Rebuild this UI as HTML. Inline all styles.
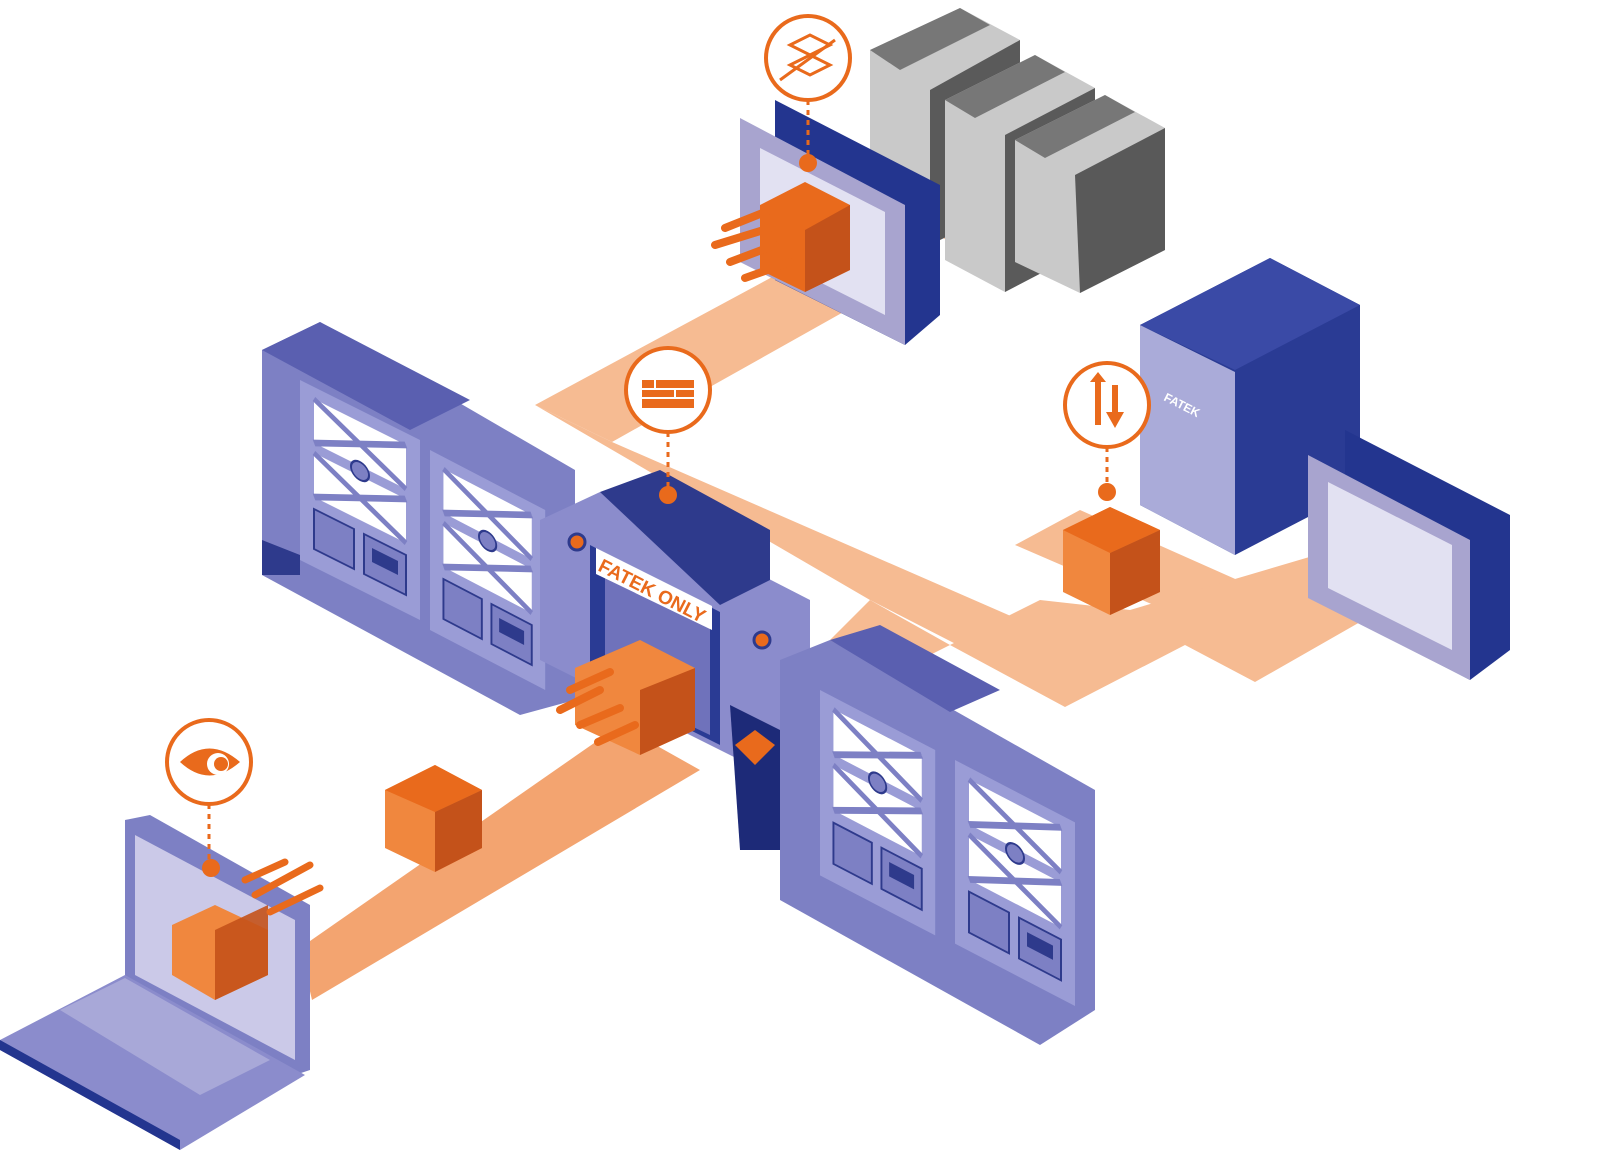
<!DOCTYPE html>
<html><head><meta charset="utf-8"><style>
html,body{margin:0;padding:0;background:#fff;}
svg{display:block;font-family:"Liberation Sans",sans-serif;}
</style></head><body>
<svg width="1600" height="1173" viewBox="0 0 1600 1173" xmlns="http://www.w3.org/2000/svg">
<defs>
<g id="panel">
<rect x="0" y="0" width="120" height="180" fill="#9a9cd6"/>
<rect x="14" y="12" width="92" height="44" fill="#fff"/>
<rect x="14" y="66" width="92" height="44" fill="#fff"/>
<g stroke="#7d80c4" stroke-width="6"><line x1="14" y1="12" x2="106" y2="56"/><line x1="14" y1="56" x2="106" y2="12"/><line x1="14" y1="66" x2="106" y2="110"/><line x1="14" y1="110" x2="106" y2="66"/></g>
<circle cx="60" cy="61" r="9" fill="#7d80c4" stroke="#2e3a8c" stroke-width="2"/>
<rect x="14" y="122" width="40" height="40" fill="#7d80c4" stroke="#2e3a8c" stroke-width="2"/>
<rect x="64" y="122" width="42" height="40" fill="#7d80c4" stroke="#2e3a8c" stroke-width="2"/>
<rect x="72" y="132" width="26" height="14" fill="#2e3a8c"/>
</g>
</defs>
<!-- peach paths -->
<g fill="#f6bb92">
<polygon points="800,262 872,296 612,442 535,405"/>
<polygon points="535,405 612,442 1100,655 1065,700 870,600"/>
<polygon points="1015,545 1080,510 1260,590 1200,625"/>
<polygon points="1130,610 1350,545 1425,585 1255,682 1185,645 1065,707 950,645 1040,600"/>
<polygon points="870,600 950,645 880,680 820,650"/>
<polygon points="930,170 1010,205 960,245 910,225"/>
</g>
<polygon points="620,725 700,770 312,1000 300,948" fill="#f3a470"/>
<!-- top gray modules -->
<g>
<polygon points="870,50 960,8 1020,40 1020,200 930,245 870,215" fill="#c9c9c9"/>
<polygon points="930,90 1020,40 1020,200 930,245" fill="#5a5a5a"/>
<polygon points="945,100 1035,55 1095,88 1095,245 1005,292 945,260" fill="#c9c9c9"/>
<polygon points="1005,135 1095,88 1095,245 1005,292" fill="#5a5a5a"/>
<polygon points="1015,140 1105,95 1165,128 1165,250 1080,293 1015,262" fill="#c9c9c9"/>
<polygon points="1075,175 1165,128 1165,250 1080,293" fill="#595959"/>
<polygon points="870,50 960,8 990,25 900,70" fill="#777"/>
<polygon points="945,100 1035,55 1065,72 975,118" fill="#777"/>
<polygon points="1015,140 1105,95 1135,112 1045,158" fill="#777"/>
</g>
<!-- top HMI -->
<polygon points="775,100 940,185 940,315 905,345 775,280" fill="#23358f"/>
<polygon points="740,118 905,205 905,345 740,262" fill="#a8a4cf"/>
<polygon points="760,148 885,212 885,315 760,252" fill="#e2e1f2"/>
<!-- top cube + streaks -->
<polygon points="760,205 805,182 850,205 850,270 805,292 760,270" fill="#e96a1c"/>
<polygon points="805,230 850,205 850,270 805,292" fill="#c4521a"/>
<g stroke="#e96a1c" stroke-width="8" stroke-linecap="round">
<line x1="725" y1="228" x2="770" y2="210"/><line x1="715" y1="245" x2="770" y2="228"/>
<line x1="730" y1="262" x2="775" y2="245"/><line x1="745" y1="278" x2="790" y2="262"/>
</g>
<!-- right PLC -->
<polygon points="1140,325 1270,258 1360,305 1360,490 1235,555 1140,505" fill="#2a3b94"/>
<polygon points="1140,325 1270,258 1360,305 1235,370" fill="#3a4aa6"/>
<polygon points="1140,325 1235,372 1235,555 1140,505" fill="#b8b8e0" opacity="0.9"/>
<text x="1163" y="400" fill="#fff" font-size="12" font-weight="bold" transform="rotate(27 1163 400)">FATEK</text>
<!-- right HMI -->
<polygon points="1345,430 1510,515 1510,650 1470,680 1345,615" fill="#23358f"/>
<polygon points="1308,455 1470,540 1470,680 1308,598" fill="#a8a4cf"/>
<polygon points="1328,482 1452,545 1452,650 1328,588" fill="#e2e1f2"/>
<!-- right cube -->
<polygon points="1063,530 1110,507 1160,530 1160,592 1110,615 1063,592" fill="#f0873e"/>
<polygon points="1063,530 1110,507 1160,530 1110,553" fill="#e96a1c"/>
<polygon points="1110,553 1160,530 1160,592 1110,615" fill="#c4521a"/>
<!-- left fence -->
<polygon points="262,350 320,322 575,470 575,700 520,715 262,575" fill="#7d80c4"/>
<polygon points="262,350 320,322 470,400 410,430" fill="#5a5fb0"/>
<use href="#panel" transform="matrix(1,0.5,0,1,300,380)"/>
<use href="#panel" transform="matrix(0.96,0.5,0,1,430,450)"/>
<polygon points="262,540 300,555 300,575 262,575" fill="#2e3a8c"/>
<!-- center gate -->
<polygon points="540,520 600,492 810,600 810,760 740,760 540,660" fill="#8b8ccc"/>
<polygon points="590,545 720,612 720,745 590,680" fill="#2a3b94"/>
<polygon points="605,560 710,614 710,735 605,685" fill="#6f72bb"/>
<polygon points="600,492 660,470 770,530 770,580 720,605" fill="#2e3a8c"/>
<polygon points="596,548 712,606 712,630 596,574" fill="#ffffff"/>
<text x="597" y="570" fill="#e96a1c" font-size="19" font-weight="bold" transform="rotate(27 597 570)">FATEK ONLY</text>
<circle cx="577" cy="542" r="8" fill="#e96a1c" stroke="#2e3a8c" stroke-width="3"/>
<circle cx="762" cy="640" r="8" fill="#e96a1c" stroke="#2e3a8c" stroke-width="3"/>
<polygon points="730,705 790,735 800,850 740,850" fill="#1d2a78"/>
<polygon points="735,745 755,730 775,745 755,765" fill="#e96a1c"/>
<!-- gate cube -->
<polygon points="575,668 640,640 695,668 695,730 640,755 575,725" fill="#f0873e"/>
<polygon points="640,690 695,668 695,730 640,755" fill="#c4521a"/>
<g stroke="#e96a1c" stroke-width="8" stroke-linecap="round">
<line x1="560" y1="710" x2="600" y2="690"/><line x1="570" y1="690" x2="610" y2="672"/>
<line x1="580" y1="725" x2="620" y2="708"/><line x1="598" y1="742" x2="635" y2="725"/>
</g>
<!-- right fence -->
<polygon points="780,660 830,640 1095,790 1095,1010 1040,1045 780,900" fill="#7d80c4"/>
<polygon points="830,640 880,625 1000,690 950,712" fill="#5a5fb0"/>
<use href="#panel" transform="matrix(0.96,0.5,0,1.03,820,690)"/>
<use href="#panel" transform="matrix(1,0.52,0,1.02,955,760)"/>
<!-- mid cube -->
<polygon points="385,790 435,765 482,790 482,848 435,872 385,848" fill="#f0873e"/>
<polygon points="385,790 435,765 482,790 435,812" fill="#e96a1c"/>
<polygon points="435,812 482,790 482,848 435,872" fill="#c4521a"/>
<!-- laptop -->
<polygon points="125,820 150,815 310,905 310,1070 280,1080 125,990" fill="#7d80c4"/>
<polygon points="135,835 295,920 295,1060 135,975" fill="#cbc9e8"/>
<polygon points="0,1040 125,975 305,1075 180,1150 0,1050" fill="#8b8ccc"/>
<polygon points="0,1040 180,1140 180,1150 0,1050" fill="#23358f"/>
<polygon points="60,1010 125,978 270,1060 200,1095" fill="#a8a8d8"/>
<polygon points="172,925 215,905 268,930 268,975 215,1000 172,975" fill="#f0873e"/>
<polygon points="215,930 268,905 268,975 215,1000" fill="#c4521a" opacity="0.9"/>
<g stroke="#e96a1c" stroke-width="7" stroke-linecap="round">
<line x1="245" y1="880" x2="285" y2="862"/><line x1="255" y1="895" x2="310" y2="865"/><line x1="270" y1="912" x2="320" y2="888"/>
</g>
<!-- icons -->
<g fill="#fff" stroke="#e96a1c" stroke-width="4">
<circle cx="808" cy="58" r="42"/><circle cx="668" cy="390" r="42"/><circle cx="1107" cy="405" r="42"/><circle cx="209" cy="762" r="42"/>
</g>
<g stroke="#e96a1c" stroke-width="3" stroke-dasharray="5,5">
<line x1="808" y1="100" x2="808" y2="160"/><line x1="668" y1="432" x2="668" y2="492"/>
<line x1="1107" y1="447" x2="1107" y2="490"/><line x1="209" y1="804" x2="209" y2="865"/>
</g>
<g fill="#e96a1c">
<circle cx="808" cy="163" r="9"/><circle cx="668" cy="495" r="9"/><circle cx="1107" cy="492" r="9"/><circle cx="211" cy="868" r="9"/>
<rect x="642" y="380" width="52" height="28"/>
<polygon points="1090,382 1098,372 1106,382 1101,382 1101,425 1095,425 1095,382"/>
<polygon points="1112,385 1118,385 1118,412 1124,412 1115,428 1106,412 1112,412"/>
<path d="M180,762 Q209,735 240,762 Q209,789 180,762Z"/>
</g>
<circle cx="218" cy="764" r="11" fill="#fff"/><circle cx="221" cy="764" r="7" fill="#e96a1c"/>
<g stroke="#fff" stroke-width="2"><line x1="642" y1="389" x2="694" y2="389"/><line x1="642" y1="398" x2="694" y2="398"/><line x1="655" y1="380" x2="655" y2="389"/><line x1="675" y1="389" x2="675" y2="398"/></g>
<g fill="none" stroke="#e96a1c" stroke-width="3"><polygon points="790,45 810,35 830,45 810,55"/><polygon points="790,65 810,55 830,65 810,75"/><line x1="780" y1="80" x2="835" y2="40"/></g>
</svg>
</body></html>
